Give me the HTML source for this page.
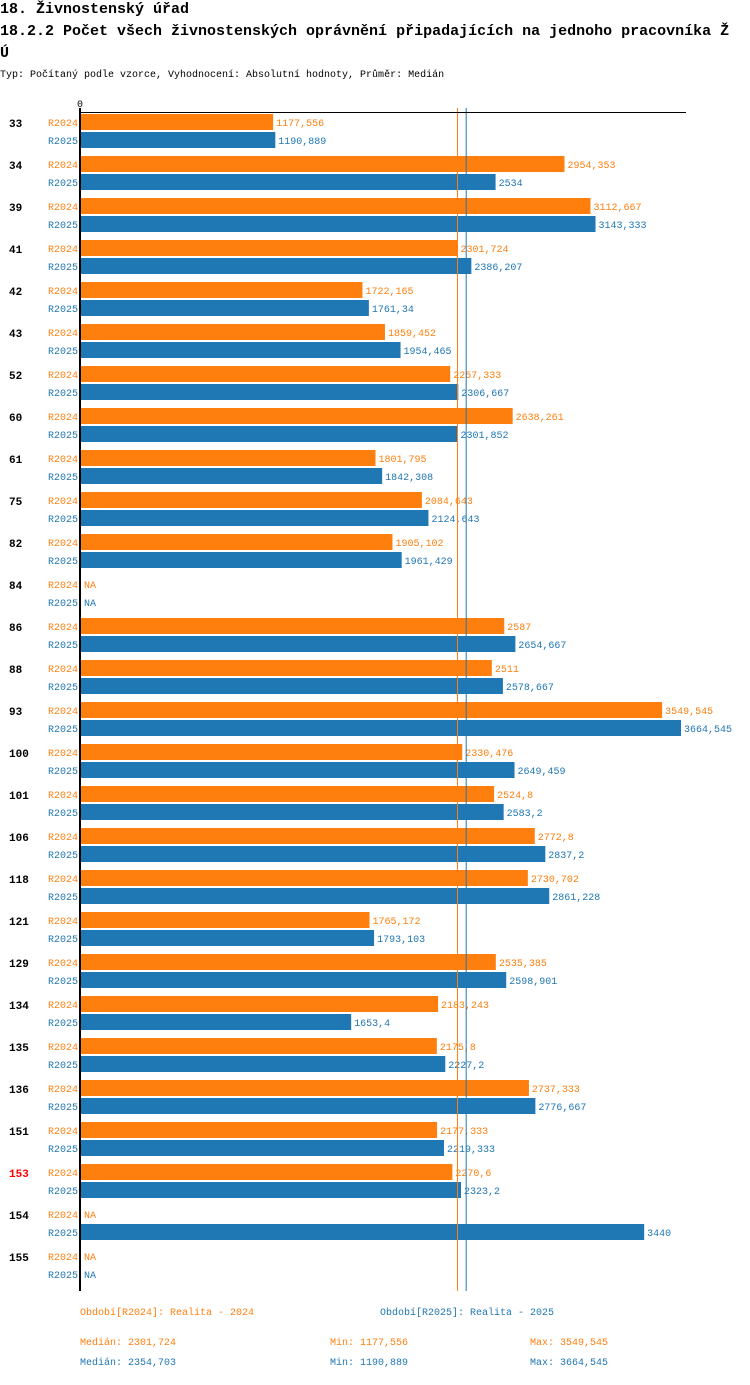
<!DOCTYPE html>
<html><head><meta charset="utf-8">
<style>
body{margin:0;background:#fff;width:750px;height:1380px;overflow:hidden;font-family:"Liberation Mono",monospace;}
svg text{font-family:"Liberation Mono",monospace;}
</style></head>
<body>
<svg id="chart" width="750" height="1380" xmlns="http://www.w3.org/2000/svg">
<text x="0" y="13" font-size="15" font-weight="bold" fill="#000">18. Živnostenský úřad</text>
<text x="0" y="35" font-size="15" font-weight="bold" fill="#000">18.2.2 Počet všech živnostenských oprávnění připadajících na jednoho pracovníka Ž</text>
<text x="0" y="57" font-size="15" font-weight="bold" fill="#000">Ú</text>
<text x="0" y="77" font-size="10" fill="#000">Typ: Počítaný podle vzorce, Vyhodnocení: Absolutní hodnoty, Průměr: Medián</text>
<g id="plot"></g>
<g font-size="10">
<text x="80" y="1315" fill="#ff7f0e">Období[R2024]: Realita - 2024</text>
<text x="380" y="1315" fill="#1f77b4">Období[R2025]: Realita - 2025</text>
<text x="80" y="1345" fill="#ff7f0e">Medián: 2301,724</text>
<text x="330" y="1345" fill="#ff7f0e">Min: 1177,556</text>
<text x="530" y="1345" fill="#ff7f0e">Max: 3549,545</text>
<text x="80" y="1365" fill="#1f77b4">Medián: 2354,703</text>
<text x="330" y="1365" fill="#1f77b4">Min: 1190,889</text>
<text x="530" y="1365" fill="#1f77b4">Max: 3664,545</text>
</g>
</svg>
<script>
const categories=["33","34","39","41","42","43","52","60","61","75","82","84","86","88","93","100","101","106","118","121","129","134","135","136","151","153","154","155"];
const r2024=[1177.556,2954.353,3112.667,2301.724,1722.165,1859.452,2257.333,2638.261,1801.795,2084.643,1905.102,null,2587,2511,3549.545,2330.476,2524.8,2772.8,2730.702,1765.172,2535.385,2183.243,2175.8,2737.333,2177.333,2270.6,null,null];
const r2025=[1190.889,2534,3143.333,2386.207,1761.34,1954.465,2306.667,2301.852,1842.308,2124.643,1961.429,null,2654.667,2578.667,3664.545,2649.459,2583.2,2837.2,2861.228,1793.103,2598.901,1653.4,2227.2,2776.667,2219.333,2323.2,3440,null];
const medians=[2301.724,2354.703];
const highlight="153";
const NS="http://www.w3.org/2000/svg";
const g=document.getElementById('plot');
const x0=80, pxPer=601/3664.545;
const xs=v=>x0+v*pxPer;
const rowY=i=>114+42*i;
function el(t,a){const e=document.createElementNS(NS,t);for(const k in a)e.setAttribute(k,a[k]);g.appendChild(e);return e;}
function fmt(v){return String(+v.toFixed(3)).replace('.',',');}
const cols=["#ff7f0e","#1f77b4"];
const series=[r2024,r2025];
const names=["R2024","R2025"];
categories.forEach((c,i)=>{
  const y=rowY(i);
  const t=el('text',{x:9,y:y+13,'font-size':11,'font-weight':'bold',fill:c===highlight?'#ff0000':'#000'});
  t.textContent=c;
  
  
  series.forEach((s,k)=>{
    const by=y+k*18;
    const lt=el('text',{x:78,y:by+12,'font-size':10,fill:cols[k],'text-anchor':'end'});
    lt.textContent=names[k];
    
    
    const v=s[i];
    if(v==null){
      const na=el('text',{x:84,y:by+12,'font-size':10,fill:cols[k]});
      na.textContent='NA';
      
      
    }else{
      const r=el('rect',{x:x0,y:by,width:xs(v)-x0,height:16,fill:cols[k]});
      
      
      const vt=el('text',{x:xs(v)+3,y:by+12,'font-size':10,fill:cols[k]});
      vt.textContent=fmt(v);
      
      
    }
  });
});
medians.forEach((m,k)=>{
  const l=el('line',{x1:xs(m),x2:xs(m),y1:108,y2:1291,stroke:cols[k],'stroke-width':1});
  
  
});
const ax=el('line',{x1:80,x2:686,y1:112.5,y2:112.5,stroke:'#000','stroke-width':1});


const ay=el('rect',{x:79,y:108,width:2,height:1183,fill:'#000'});


const z=el('text',{x:80,y:107,'font-size':10,fill:'#000','text-anchor':'middle'});
z.textContent='0';


</script>
</body></html>
